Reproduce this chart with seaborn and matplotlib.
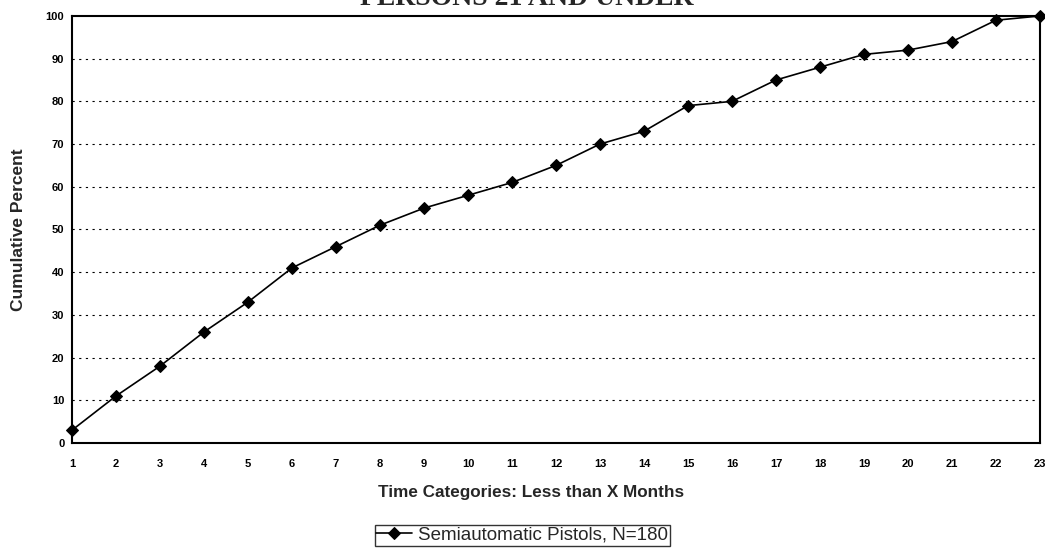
import pandas as pd
import seaborn as sns
import matplotlib
matplotlib.use('Agg')
import matplotlib.pyplot as plt

# data
months = list(range(1, 24))
cum_pct = [3, 11, 18, 26, 33, 41, 46, 51, 55, 58, 61, 65, 70, 73, 79, 80, 85, 88, 91, 92, 94, 99, 100]
series_name = 'Semiautomatic Pistols, N=180'

df = pd.DataFrame({'Months': months, 'Cumulative Percent': cum_pct, 'Series': series_name})

sns.set_style('white')
plt.rcParams['font.family'] = ['Liberation Sans', 'DejaVu Sans']

fig = plt.figure(figsize=(10.45, 5.52), dpi=100)
ax = fig.add_axes([0.0689, 0.1975, 0.9263, 0.7736])

sns.lineplot(data=df, x='Months', y='Cumulative Percent', hue='Series', palette=['black'],
             marker='D', markersize=6, linewidth=1.2, markeredgecolor='black', ax=ax,
             clip_on=False, zorder=5)

ax.set_xlim(1, 23)
ax.set_ylim(0, 100)
ax.set_xticks(months)
ax.set_yticks(range(0, 101, 10))
ax.tick_params(axis='both', direction='inout', length=5, width=1, labelsize=8, colors='black')
ax.tick_params(axis='x', pad=9)
ax.tick_params(axis='y', pad=3)
for lab in ax.get_xticklabels() + ax.get_yticklabels():
    lab.set_fontweight('bold')

for y in range(10, 100, 10):
    ax.axhline(y, color='black', linestyle=(0, (2, 4)), linewidth=0.8, zorder=0)

for s in ax.spines.values():
    s.set_visible(True)
    s.set_color('black')
    s.set_linewidth(1.5)

ax.set_xlabel('Time Categories: Less than X Months', fontsize=12.3, fontweight='bold')
ax.xaxis.set_label_coords(0.474, -0.098)
ax.set_ylabel('Cumulative Percent', fontsize=12.5, fontweight='bold')
ax.yaxis.set_label_coords(-0.048, 0.5)

leg = ax.legend(loc='upper center', bbox_to_anchor=(0.465, -0.192), frameon=True, fancybox=False,
                edgecolor='black', fontsize=13.5, handlelength=1.9, borderpad=0.1,
                handletextpad=0.3, borderaxespad=0)
leg.get_frame().set_linewidth(1.0)

# title is mostly cut off at the top of the scanned page
fig.text(0.504, 0.991, 'PERSONS 21 AND UNDER', ha='center', va='baseline', fontsize=20,
         fontweight='bold', family=['Liberation Serif', 'DejaVu Serif'])

fig.savefig('out.png', dpi=100)
